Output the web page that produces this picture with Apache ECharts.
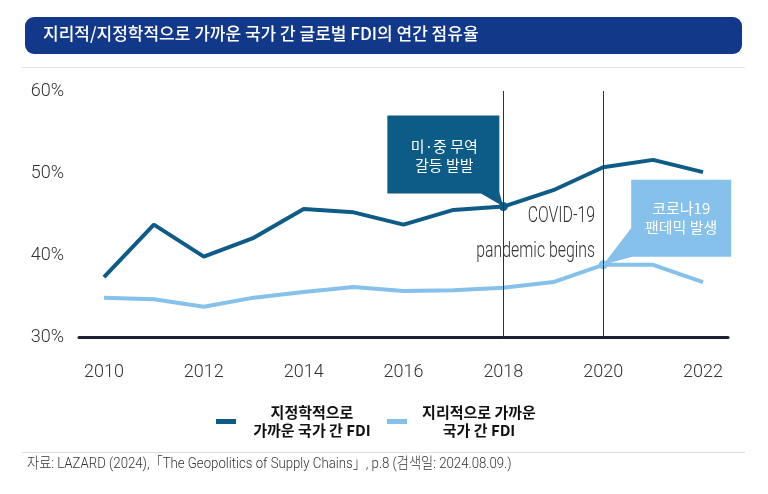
<!DOCTYPE html>
<html>
<head>
<meta charset="utf-8">
<script src="https://cdn.jsdelivr.net/npm/echarts@6/dist/echarts.min.js"></script>
<style>
  html, body { margin: 0; padding: 0; background: #fff; }
  #chart { width: 768px; height: 494px; }
</style>
</head>
<body>
<div id="chart"></div>
<script>
// data
const years = ['2010', '2011', '2012', '2013', '2014', '2015', '2016', '2017', '2018', '2019', '2020', '2021', '2022']
const geoPolitical = [37.3, 43.7, 39.8, 42.1, 45.6, 45.2, 43.7, 45.5, 45.9, 47.9, 50.7, 51.6, 50.1]
const geoGraphic = [34.8, 34.6, 33.7, 34.8, 35.5, 36.1, 35.6, 35.7, 36.0, 36.7, 38.8, 38.8, 36.7]
const seriesNames = ['지정학적으로\n가까운 국가 간 FDI', '지리적으로 가까운\n국가 간 FDI']
const eventYears = ['2018', '2020']

const DARK = '#0d5b87'
const LIGHT = '#85c1eb'
const LATIN = 'Roboto, "Noto Sans CJK KR", sans-serif'
const KR = '"Noto Sans CJK KR", "Noto Sans", sans-serif'

// highlight the point where an event marker sits
const withDot = (arr, year, color) => arr.map((v, i) =>
    years[i] === year ? { value: v, symbol: 'circle', symbolSize: 9, itemStyle: { color: color } } : v)

let myChart = echarts.init(document.getElementById('chart'))

myChart.setOption({
    animation: false,
    grid: { left: 79, right: 40, top: 91, bottom: 157 },
    xAxis: {
        type: 'category',
        data: years,
        boundaryGap: true,
        axisLine: { lineStyle: { color: '#1d2033', width: 3 } },
        axisTick: { show: false },
        axisLabel: {
            interval: 1,
            margin: 27,
            fontFamily: LATIN,
            fontWeight: 300,
            fontSize: 18,
            color: '#333'
        }
    },
    yAxis: {
        type: 'value',
        min: 30,
        max: 60,
        interval: 10,
        splitLine: { show: false },
        axisLabel: {
            formatter: '{value}%',
            margin: 15,
            fontFamily: LATIN,
            fontWeight: 300,
            fontSize: 18,
            color: '#333'
        }
    },
    legend: {
        left: 216,
        top: 405,
        padding: 0,
        icon: 'rect',
        itemWidth: 20,
        itemHeight: 5,
        itemGap: 4,
        data: seriesNames,
        formatter: (name) => {
            const key = name === seriesNames[0] ? 'a' : 'b'
            return name.split('\n').map(s => '{' + key + '|' + s + '}').join('\n')
        },
        textStyle: {
            rich: {
                a: { width: 142, align: 'center', fontFamily: KR, fontSize: 15, fontWeight: 'bold', color: '#111', lineHeight: 18 },
                b: { width: 134, align: 'center', fontFamily: KR, fontSize: 15, fontWeight: 'bold', color: '#111', lineHeight: 18 }
            }
        }
    },
    series: [
        {
            name: seriesNames[0],
            type: 'line',
            symbol: 'none',
            data: withDot(geoPolitical, eventYears[0], DARK),
            lineStyle: { color: DARK, width: 4 },
            itemStyle: { color: DARK },
            z: 3,
            markLine: {
                silent: true,
                symbol: 'none',
                label: { show: false },
                lineStyle: { color: '#2b2e45', width: 1, type: 'solid' },
                data: eventYears.map(y => ({ xAxis: y }))
            }
        },
        {
            name: seriesNames[1],
            type: 'line',
            symbol: 'none',
            data: withDot(geoGraphic, eventYears[1], LIGHT),
            lineStyle: { color: LIGHT, width: 4 },
            itemStyle: { color: LIGHT },
            z: 3
        }
    ]
})

// callouts anchored to the marked points
const p1 = myChart.convertToPixel({ seriesIndex: 0 }, [eventYears[0], geoPolitical[years.indexOf(eventYears[0])]])
const p2 = myChart.convertToPixel({ seriesIndex: 1 }, [eventYears[1], geoGraphic[years.indexOf(eventYears[1])]])

myChart.setOption({
    graphic: [
        // title bar
        { type: 'rect', left: 25, top: 17, shape: { width: 717, height: 37, r: 9 }, style: { fill: '#12388a' }, z: 10 },
        { type: 'text', left: 43, top: 25, style: { text: '지리적/지정학적으로 가까운 국가 간 글로벌 FDI의 연간 점유율', fill: '#fff', font: '500 17px ' + KR }, z: 11 },
        { type: 'rect', left: 22, top: 67, shape: { width: 723, height: 1 }, style: { fill: '#e2e2e2' } },
        // bottom rule + source (condensed by scaling)
        { type: 'rect', left: 22, top: 452, shape: { width: 723, height: 1 }, style: { fill: '#dcdcdc' } },
        {
            type: 'text', x: 27, y: 457, scaleX: 0.88,
            style: { text: '자료: LAZARD (2024),「The Geopolitics of Supply Chains」, p.8 (검색일: 2024.08.09.)', fill: '#333', font: '300 15px ' + LATIN }
        },
        // COVID text
        {
            type: 'group', x: 595, y: 0, scaleX: 0.72,
            children: [
                { type: 'text', x: 0, y: 205, style: { text: 'COVID-19', fill: '#333', font: '300 22px ' + LATIN, textAlign: 'right' } },
                { type: 'text', x: 0, y: 240, style: { text: 'pandemic begins', fill: '#333', font: '300 22px ' + LATIN, textAlign: 'right' } }
            ]
        },
        // trade conflict callout
        { type: 'polygon', shape: { points: [[p1[0] - 24, p1[1] - 14], [p1[0] - 4, p1[1] - 14], p1] }, style: { fill: DARK }, z: 5 },
        { type: 'rect', shape: { x: p1[0] - 116, y: p1[1] - 91, width: 112, height: 78 }, style: { fill: DARK }, z: 5 },
        { type: 'text', x: p1[0] - 59, y: p1[1] - 51, style: { text: '미·중 무역\n갈등 발발', fill: '#fff', font: '15px ' + KR, lineHeight: 19, textAlign: 'center', textVerticalAlign: 'middle' }, z: 6 },
        // pandemic callout
        { type: 'polygon', shape: { points: [[p2[0] + 29, p2[1] - 38], [p2[0] + 29, p2[1] - 8], p2] }, style: { fill: LIGHT }, z: 5 },
        { type: 'rect', shape: { x: p2[0] + 28, y: p2[1] - 85, width: 100, height: 77 }, style: { fill: LIGHT }, z: 5 },
        { type: 'text', x: p2[0] + 78, y: p2[1] - 47, style: { text: '코로나19\n팬데믹 발생', fill: '#fff', font: '15px ' + KR, lineHeight: 19, textAlign: 'center', textVerticalAlign: 'middle' }, z: 6 }
    ]
})
</script>
</body>
</html>
